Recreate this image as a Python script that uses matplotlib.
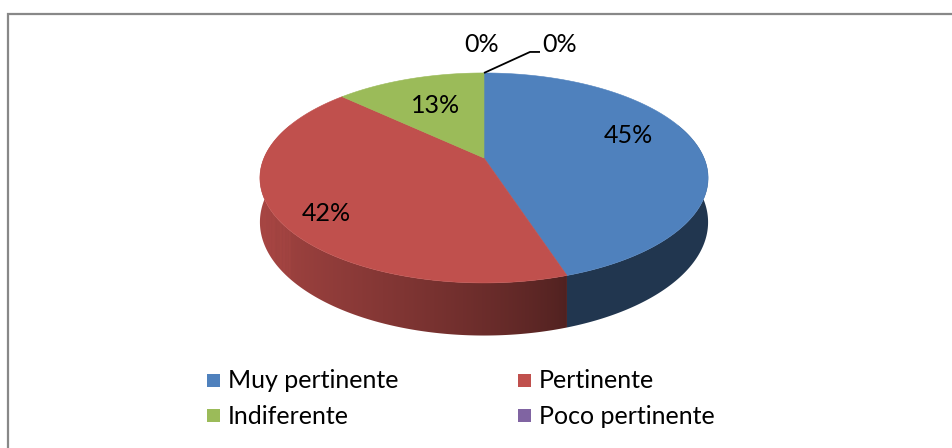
import numpy as np
import matplotlib
matplotlib.use("Agg")
import matplotlib.pyplot as plt
from matplotlib.patches import Polygon, Rectangle
from matplotlib.colors import to_rgb

categories = ["Muy pertinente", "Pertinente", "Indiferente", "Poco pertinente"]
values = [45, 42, 13, 0]
labels = ["45%", "42%", "13%", "0%"]
colors = ["#4F81BD", "#C0504D", "#9BBB59", "#8064A2"]

W, H = 953, 448
fig = plt.figure(figsize=(W / 100, H / 100), dpi=100)
ax = fig.add_axes([0, 0, 1, 1])
ax.set_xlim(0, W)
ax.set_ylim(H, 0)
ax.axis("off")

FONT = ["Lato", "DejaVu Sans"]
FS = 18

# projection (pseudo-perspective 3D pie)
cx, cy = 484.0, 158.0
R, Ry, k, D = 220.0, 101.2, 0.19, 42.6


def proj(r, phi_deg, z=0.0):
    p = np.radians(phi_deg)
    u = r * np.sin(p)
    v = -r * np.cos(p)
    s = 1.0 / (1.0 - k * v)
    return cx + R * u * s, cy + Ry * v * s + z * s


def shade(u):
    t = np.clip((0.3 - u) / 1.3, 0, 1)
    return 0.42 + 0.45 * t ** 0.8


total = float(sum(values))
starts = []
acc = 0.0
for v in values:
    starts.append(acc / total * 360.0)
    acc += v

# side walls with horizontal gradient clipped to the wall shape
vis_lo, vis_hi = 70.0, 290.0
for i, v in enumerate(values):
    if v <= 0:
        continue
    a0 = starts[i]
    a1 = a0 + v / total * 360.0
    lo, hi = max(a0, vis_lo), min(a1, vis_hi)
    if hi <= lo:
        continue
    base = np.array(to_rgb(colors[i]))
    phis = np.linspace(lo, hi, 400)
    top = np.array([proj(1, p) for p in phis])
    bot = np.array([proj(1, p, D) for p in phis])
    poly = np.vstack([top, bot[::-1]])
    patch = Polygon(poly, closed=True, facecolor="none", edgecolor="none")
    ax.add_patch(patch)
    xs_arc = top[:, 0]
    us = np.sin(np.radians(phis))
    order_ = np.argsort(xs_arc)
    x0b, x1b = poly[:, 0].min() - 1, poly[:, 0].max() + 1
    y0b, y1b = poly[:, 1].min() - 1, poly[:, 1].max() + 1
    ncol = 600
    xg = np.linspace(x0b, x1b, ncol)
    ug = np.interp(xg, xs_arc[order_], us[order_])
    cols = np.clip(base[None, :] * shade(ug)[:, None], 0, 1)
    img = np.repeat(cols[None, :, :], 2, axis=0)
    im = ax.imshow(img, extent=(x0b, x1b, y1b, y0b), aspect="auto",
                   interpolation="bilinear", zorder=2)
    im.set_clip_path(patch)

# top faces
for i, v in enumerate(values):
    if v <= 0:
        continue
    a0 = starts[i]
    a1 = a0 + v / total * 360.0
    phis = np.linspace(a0, a1, 200)
    pts = [(cx, cy)] + [proj(1, p) for p in phis]
    ax.add_patch(Polygon(pts, closed=True, facecolor=colors[i],
                         edgecolor=colors[i], lw=0.4, zorder=3))

ax.set_xlim(0, W)
ax.set_ylim(H, 0)

# data labels
label_r = [0.68, 0.78, 0.62]
label_dy = [-12, 10, -1]
for i, v in enumerate(values[:3]):
    mid = starts[i] + v / total * 180.0
    x, y = proj(label_r[i], mid)
    ax.text(x, y + label_dy[i], labels[i], ha="center", va="center",
            fontsize=FS, family=FONT, color="black", zorder=5)

# zero slices at the top
x0, y0 = proj(1, starts[3])
ax.text(x0 - 2, y0 - 28, "0%", ha="center", va="center", fontsize=FS,
        family=FONT, color="black", zorder=5)
ax.plot([x0, x0 + 46, x0 + 56], [y0, y0 - 21, y0 - 21], color="black",
        lw=1.3, zorder=4, solid_capstyle="butt")
ax.text(x0 + 58, y0 - 28, "0%", ha="left", va="center", fontsize=FS,
        family=FONT, color="black", zorder=5)

# legend (2 columns, row-major)
col_x = [207, 518]
row_y = [381, 416]
for idx in range(len(categories)):
    r, c = divmod(idx, 2)
    x, y = col_x[c], row_y[r]
    ax.add_patch(Rectangle((x, y - 6.5), 13, 13, facecolor=colors[idx],
                           edgecolor="none", zorder=5))
    ax.text(x + 21, y, categories[idx], ha="left", va="center", fontsize=FS,
            family=FONT, color="black", zorder=5)

# chart frame (top and left edges visible)
ax.plot([8, 8, W + 2], [H + 2, 14, 14], color="#888888", lw=1.6, zorder=6,
        solid_joinstyle="miter")

fig.savefig("out.png", dpi=100)
